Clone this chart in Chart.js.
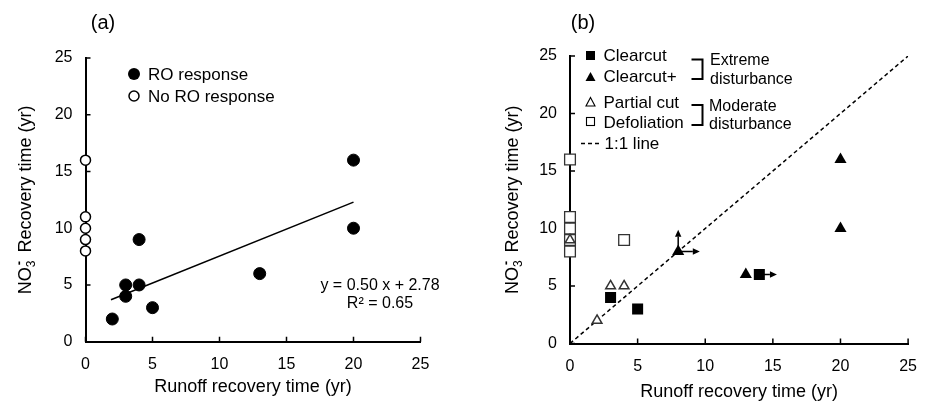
<!DOCTYPE html>
<html>
<head>
<meta charset="utf-8">
<script src="https://cdn.jsdelivr.net/npm/chart.js@4.4.1/dist/chart.umd.min.js"></script>
<style>
html,body{margin:0;padding:0;background:#fff;}
#wrap{position:relative;width:930px;height:404px;overflow:hidden;}
canvas{position:absolute;top:0;}
#ca{left:0;} #cb{left:465px;}
</style>
</head>
<body>
<div id="wrap">
<canvas id="ca" width="465" height="404"></canvas>
<canvas id="cb" width="465" height="404"></canvas>
</div>
<script>
// ---------- DATA ----------
const tickValues = [0, 5, 10, 15, 20, 25];

// Panel (a)
const aRO_x   = [2, 3, 3, 4, 4, 5, 13, 20, 20];
const aRO_y   = [2, 5, 4, 9, 5, 3, 6, 16, 10];
const aNoRO_x = [0, 0, 0, 0, 0];
const aNoRO_y = [16, 11, 10, 9, 8];
const aTrend_x = [1.9, 20];
const aTrend_y = [3.7, 12.3];

// Panel (b)
const clearcut_x = [3, 5, 14];
const clearcut_y = [4, 3, 6];
const clearcutPlus_x = [8, 13, 20, 20];
const clearcutPlus_y = [8, 6, 16, 10];
const partial_x = [0, 2, 3, 4];
const partial_y = [9, 2, 5, 5];
const defol_x = [0, 0, 0, 0, 0, 4];
const defol_y = [16, 11, 10, 9, 8, 9];
const oneToOne_x = [0, 25];
const oneToOne_y = [0, 25];
// arrows (lower-bound indicators)
const arrowFrom_x = [8, 8, 14];
const arrowFrom_y = [8, 8, 6];
const arrowTo_x   = [8, 9.6, 15.3];
const arrowTo_y   = [9.9, 8, 6];

// ---------- HELPERS ----------
const F = '"Liberation Sans", Arial, Helvetica, sans-serif';
const pts = (xs, ys) => xs.map((x, i) => ({x: x, y: ys[i]}));

function yTitle(ctx, cx, cy) {
  ctx.save();
  ctx.translate(cx, cy);
  ctx.rotate(-Math.PI / 2);
  ctx.fillStyle = '#000';
  ctx.textBaseline = 'alphabetic';
  ctx.textAlign = 'left';
  const big = '18px ' + F, small = '12px ' + F;
  ctx.font = big;
  const wNO = ctx.measureText('NO').width;
  const rest = ' Recovery time (yr)';
  const wRest = ctx.measureText(rest).width;
  ctx.font = small;
  const w3 = ctx.measureText('3').width;
  const total = wNO + w3 + 3 + wRest;
  let x = -total / 2;
  const base = 6.5;
  ctx.font = big;
  ctx.fillText('NO', x, base);
  x += wNO;
  ctx.font = small;
  ctx.fillText('3', x, base + 4);
  ctx.fillRect(x + 2.5, base - 12, 3.2, 1.6);
  x += w3 + 3;
  ctx.font = big;
  ctx.fillText(rest, x, base);
  ctx.restore();
}

function text(ctx, s, x, y, size, align) {
  ctx.save();
  ctx.font = size + 'px ' + F;
  ctx.fillStyle = '#000';
  ctx.textAlign = align || 'left';
  ctx.textBaseline = 'middle';
  ctx.fillText(s, x, y);
  ctx.restore();
}

const inwardTicks = {
  id: 'inwardTicks',
  beforeDatasetsDraw(chart) {
    const ctx = chart.ctx, xs = chart.scales.x, ys = chart.scales.y;
    const a = chart.chartArea;
    ctx.save();
    ctx.strokeStyle = '#000';
    ctx.lineWidth = 1.5;
    ctx.beginPath();
    tickValues.forEach(v => {
      const px = xs.getPixelForValue(v);
      ctx.moveTo(px, a.bottom); ctx.lineTo(px, a.bottom - 5);
      const py = ys.getPixelForValue(v);
      ctx.moveTo(a.left, py); ctx.lineTo(a.left + 5, py);
    });
    ctx.stroke();
    ctx.restore();
  }
};

function scaleOpts(xHeight, yWidth) {
  const common = {
    type: 'linear', min: 0, max: 25,
    grid: {display: true, drawOnChartArea: false, drawTicks: false},
    border: {display: true, color: '#000', width: 2},
    ticks: {
      stepSize: 5, color: '#000', padding: 13,
      font: {family: F, size: 16},
      callback: v => tickValues.includes(v) ? String(v) : ''
    }
  };
  return {
    x: Object.assign({}, common, {position: 'bottom', afterFit: s => { s.height = xHeight; }}),
    y: Object.assign({}, common, {position: 'left', afterFit: s => { s.width = yWidth; }})
  };
}

// ---------- CHART (a) ----------
const plugA = {
  id: 'annA',
  afterDraw(chart) {
    const ctx = chart.ctx, a = chart.chartArea;
    text(ctx, '(a)', 103, 23, 20, 'center');
    yTitle(ctx, 24, (a.top + a.bottom) / 2);
    text(ctx, 'Runoff recovery time (yr)', (a.left + a.right) / 2, 387, 18, 'center');
    // legend
    ctx.save();
    ctx.fillStyle = '#000';
    ctx.beginPath(); ctx.arc(134, 74, 6, 0, Math.PI * 2); ctx.fill();
    ctx.fillStyle = '#fff'; ctx.strokeStyle = '#000'; ctx.lineWidth = 1.5;
    ctx.beginPath(); ctx.arc(134, 96, 5, 0, Math.PI * 2); ctx.fill(); ctx.stroke();
    ctx.restore();
    text(ctx, 'RO response', 148, 75, 17);
    text(ctx, 'No RO response', 148, 97, 17);
    text(ctx, 'y = 0.50 x + 2.78', 380, 286, 16, 'center');
    text(ctx, 'R² = 0.65', 380, 304, 16, 'center');
  }
};

new Chart(document.getElementById('ca'), {
  type: 'scatter',
  data: {
    datasets: [
      {label: 'RO response', data: pts(aRO_x, aRO_y), pointStyle: 'circle', pointRadius: 6,
       backgroundColor: '#000', borderColor: '#000', borderWidth: 1, clip: false},
      {label: 'No RO response', data: pts(aNoRO_x, aNoRO_y), pointStyle: 'circle', pointRadius: 5,
       backgroundColor: '#fff', borderColor: '#000', borderWidth: 1.5, clip: false},
      {type: 'line', label: 'trend', data: pts(aTrend_x, aTrend_y), borderColor: '#000',
       borderWidth: 1.6, pointRadius: 0, fill: false, showLine: true}
    ]
  },
  options: {
    responsive: false, animation: false, devicePixelRatio: 1,
    layout: {padding: {left: 0, right: 44.5, top: 58, bottom: 0}},
    plugins: {legend: {display: false}, tooltip: {enabled: false}, title: {display: false}},
    scales: scaleOpts(62.3, 85.5)
  },
  plugins: [inwardTicks, plugA]
});

// ---------- CHART (b) ----------
function arrow(ctx, x1, y1, x2, y2) {
  const ang = Math.atan2(y2 - y1, x2 - x1);
  const L = 7, W = 3.2;
  ctx.beginPath();
  ctx.moveTo(x1, y1);
  ctx.lineTo(x2 - L * Math.cos(ang), y2 - L * Math.sin(ang));
  ctx.stroke();
  ctx.beginPath();
  ctx.moveTo(x2, y2);
  ctx.lineTo(x2 - L * Math.cos(ang) - W * Math.sin(ang), y2 - L * Math.sin(ang) + W * Math.cos(ang));
  ctx.lineTo(x2 - L * Math.cos(ang) + W * Math.sin(ang), y2 - L * Math.sin(ang) - W * Math.cos(ang));
  ctx.closePath();
  ctx.fill();
}

const plugB = {
  id: 'annB',
  afterDatasetsDraw(chart) {
    const ctx = chart.ctx, xs = chart.scales.x, ys = chart.scales.y;
    ctx.save();
    ctx.strokeStyle = '#000'; ctx.fillStyle = '#000'; ctx.lineWidth = 1.5;
    arrowFrom_x.forEach((v, i) => {
      arrow(ctx, xs.getPixelForValue(v), ys.getPixelForValue(arrowFrom_y[i]),
            xs.getPixelForValue(arrowTo_x[i]), ys.getPixelForValue(arrowTo_y[i]));
    });
    ctx.restore();
  },
  afterDraw(chart) {
    const ctx = chart.ctx, a = chart.chartArea;
    text(ctx, '(b)', 118, 23, 20, 'center');
    yTitle(ctx, 46, (a.top + a.bottom) / 2);
    text(ctx, 'Runoff recovery time (yr)', (a.left + a.right) / 2, 392, 18, 'center');
    // legend markers
    ctx.save();
    ctx.fillStyle = '#000'; ctx.strokeStyle = '#000';
    ctx.fillRect(121, 51, 9, 9);
    ctx.beginPath(); ctx.moveTo(125.5, 72); ctx.lineTo(130.5, 81); ctx.lineTo(120.5, 81); ctx.closePath(); ctx.fill();
    ctx.lineWidth = 1.1;
    ctx.fillStyle = '#fff';
    ctx.beginPath(); ctx.moveTo(125.5, 97.5); ctx.lineTo(130, 106); ctx.lineTo(121, 106); ctx.closePath(); ctx.fill(); ctx.stroke();
    ctx.fillRect(121.5, 117.5, 8, 8); ctx.strokeRect(121.5, 117.5, 8, 8);
    // 1:1 line sample
    ctx.lineWidth = 1.5; ctx.setLineDash([4, 3]);
    ctx.beginPath(); ctx.moveTo(116, 143.5); ctx.lineTo(137, 143.5); ctx.stroke();
    ctx.setLineDash([]);
    // brackets
    ctx.lineWidth = 2;
    ctx.beginPath();
    ctx.moveTo(226.5, 59.5); ctx.lineTo(237.5, 59.5); ctx.lineTo(237.5, 79); ctx.lineTo(226.5, 79);
    ctx.moveTo(226.5, 105); ctx.lineTo(237.5, 105); ctx.lineTo(237.5, 125); ctx.lineTo(226.5, 125);
    ctx.stroke();
    ctx.restore();
    text(ctx, 'Clearcut', 138.5, 56, 17);
    text(ctx, 'Clearcut+', 138.5, 77.5, 17);
    text(ctx, 'Partial cut', 138.5, 103.5, 17);
    text(ctx, 'Defoliation', 138.5, 123, 17);
    text(ctx, '1:1 line', 139.5, 144, 17);
    text(ctx, 'Extreme', 245, 60.5, 16);
    text(ctx, 'disturbance', 245, 79.5, 16);
    text(ctx, 'Moderate', 244, 106.5, 16);
    text(ctx, 'disturbance', 244, 125, 16);
  }
};

new Chart(document.getElementById('cb'), {
  type: 'scatter',
  data: {
    datasets: [
      {label: 'Clearcut', data: pts(clearcut_x, clearcut_y), pointStyle: 'rect', pointRadius: 7.8,
       backgroundColor: '#000', borderColor: '#000', borderWidth: 0, clip: false},
      {label: 'Clearcut+', data: pts(clearcutPlus_x, clearcutPlus_y), pointStyle: 'triangle', pointRadius: 7,
       backgroundColor: '#000', borderColor: '#000', borderWidth: 0, clip: false},
      {label: 'Partial cut', data: pts(partial_x, partial_y), pointStyle: 'triangle', pointRadius: 5.6,
       backgroundColor: '#fff', borderColor: '#333', borderWidth: 1.5, clip: false},
      {label: 'Defoliation', data: pts(defol_x, defol_y), pointStyle: 'rect', pointRadius: 7.6,
       backgroundColor: '#fff', borderColor: '#333', borderWidth: 1.3, clip: false},
      {type: 'line', label: '1:1 line', data: pts(oneToOne_x, oneToOne_y), borderColor: '#000',
       borderWidth: 1.5, borderDash: [4, 3], pointRadius: 0, fill: false}
    ]
  },
  options: {
    responsive: false, animation: false, devicePixelRatio: 1,
    layout: {padding: {left: 0, right: 14.3, top: 56, bottom: 0}},
    plugins: {legend: {display: false}, tooltip: {enabled: false}, title: {display: false}},
    scales: scaleOpts(60.5, 105)
  },
  plugins: [inwardTicks, plugB]
});
</script>
</body>
</html>
